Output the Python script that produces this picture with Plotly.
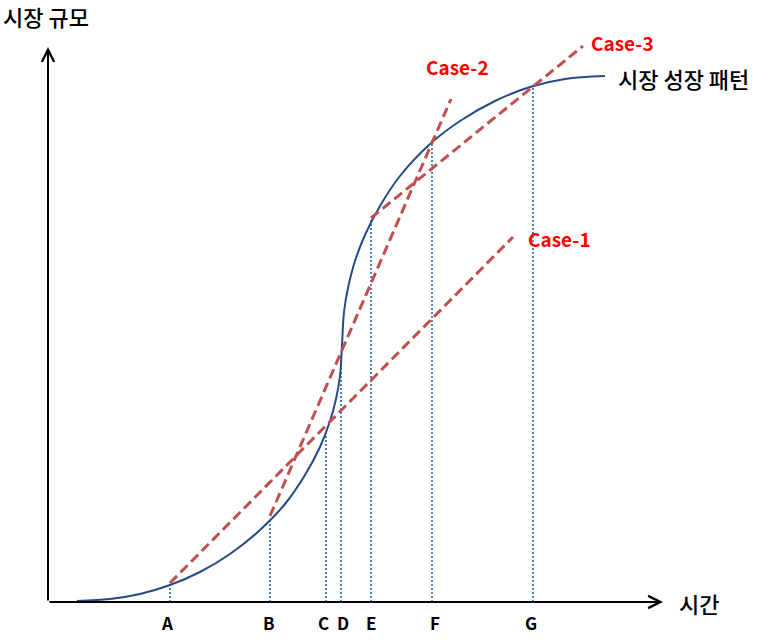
import plotly.graph_objects as go

# S-curve of market growth (time vs. market size)
curve_t = [29, 62, 92, 122, 152, 182, 212, 237, 257, 272, 282, 288, 292, 294,
           296, 300, 307, 317, 332, 352, 382, 412, 447, 482, 517, 557]
curve_s = [1, 3, 8, 17, 30, 48, 72, 98, 127, 155, 181, 203, 226, 257,
           290, 314, 341, 367, 396, 426, 458, 481, 501, 515, 523, 526]

# time points A-G and curve heights at them
point_labels = ["A", "B", "C", "D", "E", "F", "G"]
point_t = [122, 222, 278, 293, 323, 384, 485]
point_s = [17, 83, 171, 248, 384, 462, 516]
label_t = [119, 221, 275, 295, 323, 387, 483]

# Cases (dashed lines): start and end
case_names = ["Case-1", "Case-2", "Case-3"]
case_t = [[122, 465], [222, 403], [323, 535]]
case_s = [[19, 365], [86, 503], [384, 556]]
case_label_t = [478, 376, 541]
case_label_s = [364, 536, 560]

KFONT = "Noto Sans CJK KR, Malgun Gothic, sans-serif"
NAVY = "#254A85"
RED = "#C0504D"
BLUE = "#4F81BD"

fig = go.Figure()

# dotted verticals
for t, s in zip(point_t, point_s):
    fig.add_trace(go.Scatter(x=[t, t], y=[0, s], mode="lines",
                             line=dict(color=BLUE, width=2, dash="2px,2px"),
                             hoverinfo="skip", showlegend=False))

# the market growth curve
fig.add_trace(go.Scatter(x=curve_t, y=curve_s, mode="lines",
                         line=dict(color=NAVY, width=2, shape="spline", smoothing=1),
                         showlegend=False))

# dashed case lines
for ct, cs in zip(case_t, case_s):
    fig.add_trace(go.Scatter(x=ct, y=cs, mode="lines",
                             line=dict(color=RED, width=3, dash="10px,5px"),
                             showlegend=False))

ann = []
# axes with arrows
ann.append(dict(x=615, y=0, ax=0, ay=0, xref="x", yref="y", axref="x", ayref="y",
                text="", showarrow=True, arrowhead=5, arrowsize=1.2, arrowwidth=2,
                arrowcolor="black"))
ann.append(dict(x=0, y=555, ax=0, ay=0, xref="x", yref="y", axref="x", ayref="y",
                text="", showarrow=True, arrowhead=5, arrowsize=1.2, arrowwidth=2,
                arrowcolor="black"))

for lab, t in zip(point_labels, label_t):
    ann.append(dict(x=t, y=-20, text="<b>%s</b>" % lab, showarrow=False,
                    xanchor="center", yanchor="middle",
                    font=dict(family=KFONT, size=17, color="black")))

for name, t, s in zip(case_names, case_label_t, case_label_s):
    ann.append(dict(x=t, y=s, text="<b>%s</b>" % name, showarrow=False,
                    xanchor="left", yanchor="middle",
                    font=dict(family=KFONT, size=19, color="#FF0000")))

kfont = dict(family=KFONT, size=22, color="black", weight=500)
ann.append(dict(x=568, y=524, text="시장 성장 패턴", showarrow=False,
                xanchor="left", yanchor="middle", font=kfont))
ann.append(dict(x=629, y=-1, text="시간", showarrow=False,
                xanchor="left", yanchor="middle", font=kfont))
ann.append(dict(x=-47, y=586, text="시장 규모", showarrow=False,
                xanchor="left", yanchor="middle", font=kfont))

fig.update_layout(
    width=766, height=644,
    margin=dict(l=0, r=0, t=0, b=0),
    paper_bgcolor="white", plot_bgcolor="white",
    xaxis=dict(range=[-48, 718], visible=False, fixedrange=True),
    yaxis=dict(range=[-42, 602], visible=False, fixedrange=True),
    annotations=ann,
    showlegend=False,
)

fig.write_html("out.html")
